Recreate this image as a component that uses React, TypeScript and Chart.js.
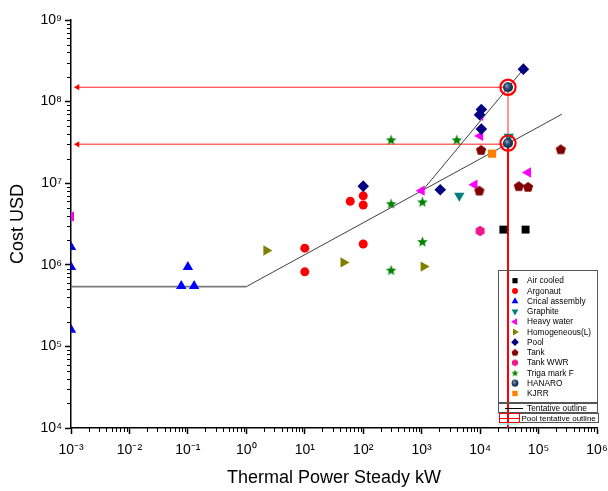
import React, { useEffect, useRef } from 'react';
import { Chart, registerables } from 'chart.js';

Chart.register(...registerables);

// ---------------- data ----------------
const xTickExponents = [-3, -2, -1, 0, 1, 2, 3, 4, 5, 6];
const yTickExponents = [4, 5, 6, 7, 8, 9];

const airCooledX = [2.5e4, 6e4];
const airCooledY = [2.7e6, 2.7e6];
const argonautX = [10, 10, 60, 100, 100, 100];
const argonautY = [1.6e6, 8.2e5, 6e6, 7e6, 5.4e6, 1.8e6];
const criticalX = [1e-3, 1e-3, 1e-3, 0.1, 0.077, 0.128];
const criticalY = [1.65e6, 9.4e5, 1.6e5, 9.4e5, 5.5e5, 5.5e5];
const graphiteX = [4400, 3.1e4];
const graphiteY = [7e6, 3.7e7];
const heavyWaterX = [1e-3, 1000, 8000, 1e4, 1e4, 6.6e4];
const heavyWaterY = [3.9e6, 8.1e6, 9.6e6, 3.8e7, 6.7e7, 1.35e7];
const homogeneousX = [2.2, 46, 1080];
const homogeneousY = [1.5e6, 1.07e6, 9.5e5];
const poolX = [100, 2080, 1.05e4, 9.8e3, 1.05e4, 5.5e4];
const poolY = [9.2e6, 8.3e6, 8e7, 6.9e7, 4.6e7, 2.5e8];
const tankX = [1.04e4, 9.7e3, 4.6e4, 6.6e4, 2.4e5];
const tankY = [2.55e7, 8.1e6, 9.2e6, 9e6, 2.6e7];
const tankWWRX = [1e4];
const tankWWRY = [2.6e6];
const trigaX = [300, 4000, 300, 1030, 1030, 300];
const trigaY = [3.4e7, 3.4e7, 5.6e6, 5.9e6, 1.92e6, 8.6e5];
const hanaroX = [3e4, 3e4];
const hanaroY = [1.5e8, 3.1e7];
const kjrrX = [1.6e4];
const kjrrY = [2.3e7];

// tentative outline
const outlineX = [1e-3, 1, 2.5e5];
const outlineY = [5.4e5, 5.4e5, 7e7];
const steepX = [1000, 5.5e4];
const steepY = [7.9e6, 2.5e8];

// pool tentative outline (red)
const poolLineX = [1.29e-3, 3e4];
const poolTopY = [1.5e8, 1.5e8];
const poolLowY = [3e7, 3e7];
const poolVertX = [3e4, 3e4];
const poolVertUpperY = [1.5e8, 3.1e7];
const poolVertLowerY = [3.1e7, 1e4];
const arrowX = [1.29e-3, 1.29e-3];
const arrowY = [1.5e8, 3e7];
const ringX = [3e4, 3e4];
const ringY = [1.5e8, 3.1e7];

// ---------------- helpers ----------------
const SUP: Record<string, string> = {
  '-': '\u207B', '0': '\u2070', '1': '\u00B9', '2': '\u00B2', '3': '\u00B3',
  '4': '\u2074', '5': '\u2075', '6': '\u2076', '7': '\u2077', '8': '\u2078', '9': '\u2079',
};
const powLabel = (e: number) => '10' + String(e).split('').map((c) => SUP[c]).join('');
const isPow10 = (v: number) => {
  const e = Math.log10(v);
  return Math.abs(e - Math.round(e)) < 1e-6;
};
function allTicks(exps: number[]) {
  const out: number[] = [];
  for (let i = 0; i < exps.length; i++) {
    const base = Math.pow(10, exps[i]);
    out.push(base);
    if (i < exps.length - 1) for (let m = 2; m <= 9; m++) out.push(m * base);
  }
  return out;
}
const pts = (xs: number[], ys: number[]) => xs.map((x, i) => ({ x, y: ys[i] }));

function mk(size: number, draw: (ctx: CanvasRenderingContext2D, c: number) => void) {
  const cv = document.createElement('canvas');
  cv.width = size;
  cv.height = size;
  const ctx = cv.getContext('2d')!;
  draw(ctx, size / 2);
  return cv;
}
function polyPath(ctx: CanvasRenderingContext2D, cx: number, cy: number, n: number, r: number, start: number) {
  ctx.beginPath();
  for (let i = 0; i < n; i++) {
    const a = start + (i * 2 * Math.PI) / n;
    const x = cx + r * Math.cos(a);
    const y = cy + r * Math.sin(a);
    if (i === 0) ctx.moveTo(x, y);
    else ctx.lineTo(x, y);
  }
  ctx.closePath();
}
function starPath(ctx: CanvasRenderingContext2D, cx: number, cy: number, ro: number, ri: number) {
  ctx.beginPath();
  for (let i = 0; i < 10; i++) {
    const a = -Math.PI / 2 + (i * Math.PI) / 5;
    const r = i % 2 === 0 ? ro : ri;
    const x = cx + r * Math.cos(a);
    const y = cy + r * Math.sin(a);
    if (i === 0) ctx.moveTo(x, y);
    else ctx.lineTo(x, y);
  }
  ctx.closePath();
}
function makeIcons(k: number) {
  const s = (v: number) => Math.max(4, Math.round(v * k));
  const pentagon = mk(s(12), (ctx, c) => {
    polyPath(ctx, c, c + 0.4 * k, 5, 5.4 * k, -Math.PI / 2);
    ctx.fillStyle = '#800000';
    ctx.fill();
  });
  const hexagon = mk(s(12), (ctx, c) => {
    polyPath(ctx, c, c, 6, 5.2 * k, -Math.PI / 2);
    ctx.fillStyle = '#F0168C';
    ctx.fill();
  });
  const star = mk(s(13), (ctx, c) => {
    starPath(ctx, c, c + 0.4 * k, 5.6 * k, 2.4 * k);
    ctx.fillStyle = '#008000';
    ctx.fill();
  });
  const sphere = mk(s(12), (ctx, c) => {
    const g = ctx.createRadialGradient(c - 1.5 * k, c - 1.8 * k, 0.3, c, c, 5 * k);
    g.addColorStop(0, '#8FA6C6');
    g.addColorStop(0.45, '#34507A');
    g.addColorStop(1, '#0E1E3A');
    ctx.beginPath();
    ctx.arc(c, c, 5 * k, 0, Math.PI * 2);
    ctx.fillStyle = g;
    ctx.fill();
  });
  return { pentagon, hexagon, star, sphere };
}

function drawShape(
  ctx: CanvasRenderingContext2D, style: any, x: number, y: number, r: number, rotDeg: number, fill: string,
) {
  if (typeof style !== 'string') {
    ctx.drawImage(style, x - style.width / 2, y - style.height / 2);
    return;
  }
  ctx.beginPath();
  const rad = (rotDeg * Math.PI) / 180;
  if (style === 'circle') {
    ctx.arc(x, y, r, 0, Math.PI * 2);
  } else if (style === 'rect') {
    const h = Math.SQRT1_2 * r;
    ctx.rect(x - h, y - h, 2 * h, 2 * h);
  } else if (style === 'rectRot') {
    ctx.moveTo(x - r, y);
    ctx.lineTo(x, y - r);
    ctx.lineTo(x + r, y);
    ctx.lineTo(x, y + r);
    ctx.closePath();
  } else if (style === 'triangle') {
    let a = rad;
    ctx.moveTo(x + Math.sin(a) * r, y - Math.cos(a) * r);
    a += (2 * Math.PI) / 3;
    ctx.lineTo(x + Math.sin(a) * r, y - Math.cos(a) * r);
    a += (2 * Math.PI) / 3;
    ctx.lineTo(x + Math.sin(a) * r, y - Math.cos(a) * r);
    ctx.closePath();
  }
  ctx.fillStyle = fill;
  ctx.fill();
}

export default function App() {
  const ref = useRef<HTMLCanvasElement>(null);

  useEffect(() => {
    document.body.style.margin = '0';
    const canvas = ref.current!;
    Chart.defaults.font.family = '"Liberation Sans", Arial, sans-serif';

    const icons = makeIcons(1);
    const legendIcons = makeIcons(0.68);

    const markerSeries: any[] = [
      { label: 'Air cooled', xs: airCooledX, ys: airCooledY, style: 'rect', lstyle: 'rect', rot: 0, color: '#000000', r: 5.6 },
      { label: 'Argonaut', xs: argonautX, ys: argonautY, style: 'circle', lstyle: 'circle', rot: 0, color: '#FF0000', r: 4.5 },
      { label: 'Crical assembly', xs: criticalX, ys: criticalY, style: 'triangle', lstyle: 'triangle', rot: 0, color: '#0000FF', r: 6 },
      { label: 'Graphite', xs: graphiteX, ys: graphiteY, style: 'triangle', lstyle: 'triangle', rot: 180, color: '#008080', r: 6 },
      { label: 'Heavy water', xs: heavyWaterX, ys: heavyWaterY, style: 'triangle', lstyle: 'triangle', rot: 270, color: '#FF00FF', r: 6 },
      { label: 'Homogeneous(L)', xs: homogeneousX, ys: homogeneousY, style: 'triangle', lstyle: 'triangle', rot: 90, color: '#808000', r: 6 },
      { label: 'Pool', xs: poolX, ys: poolY, style: 'rectRot', lstyle: 'rectRot', rot: 0, color: '#000080', r: 5.8 },
      { label: 'Tank', xs: tankX, ys: tankY, style: icons.pentagon, lstyle: legendIcons.pentagon, rot: 0, color: '#800000', r: 5.5 },
      { label: 'Tank WWR', xs: tankWWRX, ys: tankWWRY, style: icons.hexagon, lstyle: legendIcons.hexagon, rot: 0, color: '#F0168C', r: 5 },
      { label: 'Triga mark F', xs: trigaX, ys: trigaY, style: icons.star, lstyle: legendIcons.star, rot: 0, color: '#008000', r: 5.5 },
      { label: 'HANARO', xs: hanaroX, ys: hanaroY, style: icons.sphere, lstyle: legendIcons.sphere, rot: 0, color: '#1F3558', r: 5 },
      { label: 'KJRR', xs: kjrrX, ys: kjrrY, style: 'rect', lstyle: 'rect', rot: 0, color: '#FF8000', r: 5.8 },
    ];

    const markerDatasets = markerSeries.map((s, i) => ({
      label: s.label,
      data: pts(s.xs, s.ys),
      showLine: false,
      pointStyle: s.style,
      rotation: s.rot,
      pointRadius: s.r,
      pointHoverRadius: s.r,
      backgroundColor: s.color,
      borderColor: s.color,
      borderWidth: 0,
      clip: 0,
      order: 100 - i,
    }));

    const lineDs = (label: string, xs: number[], ys: number[], color: string, width: number, extra: any = {}) => ({
      label,
      data: pts(xs, ys),
      showLine: true,
      borderColor: color,
      borderWidth: width,
      pointRadius: 0,
      pointHoverRadius: 0,
      backgroundColor: color,
      clip: 0,
      order: 200,
      ...extra,
    });

    const datasets: any[] = [
      ...markerDatasets,
      lineDs('Tentative outline', outlineX, outlineY, '#2a2a2a', 0.9, {
        segment: { borderColor: (c: any) => (c.p0DataIndex === 0 ? '#7a7a7a' : '#2a2a2a'), borderWidth: (c: any) => (c.p0DataIndex === 0 ? 1.8 : 0.9) },
      }),
      lineDs('Tentative outline 2', steepX, steepY, '#2a2a2a', 0.9),
      lineDs('Pool tentative outline top', poolLineX, poolTopY, '#FF2020', 1),
      lineDs('Pool tentative outline low', poolLineX, poolLowY, 'rgba(255,70,70,0.8)', 1.7),
      lineDs('Pool tentative outline vertical upper', poolVertX, poolVertUpperY, 'rgba(255,90,90,0.85)', 1.5),
      lineDs('Pool tentative outline vertical lower', poolVertX, poolVertLowerY, '#FF0000', 2),
      {
        label: 'arrows',
        data: pts(arrowX, arrowY),
        showLine: false,
        pointStyle: 'triangle',
        rotation: 270,
        pointRadius: 3.6,
        pointHoverRadius: 3.6,
        backgroundColor: '#FF0000',
        borderColor: '#FF0000',
        borderWidth: 0,
        clip: 0,
        order: 150,
      },
      {
        label: 'rings',
        data: pts(ringX, ringY),
        showLine: false,
        pointStyle: 'circle',
        pointRadius: 7.6,
        pointHoverRadius: 7.6,
        backgroundColor: 'rgba(0,0,0,0)',
        borderColor: '#FF0000',
        borderWidth: 2.2,
        clip: 0,
        order: 0,
      },
    ];

    const xTicks = allTicks(xTickExponents);
    const yTicks = allTicks(yTickExponents);

    const minorTicks = {
      id: 'minorTicks',
      afterDraw(chart: any) {
        const { ctx } = chart;
        const xs = chart.scales.x;
        const ys = chart.scales.y;
        ctx.save();
        ctx.strokeStyle = '#000';
        ctx.lineWidth = 1;
        ctx.beginPath();
        for (const t of xs.ticks) {
          if (isPow10(t.value)) continue;
          const px = Math.round(xs.getPixelForValue(t.value)) + 0.5;
          ctx.moveTo(px, xs.top);
          ctx.lineTo(px, xs.top + 4);
        }
        for (const t of ys.ticks) {
          if (isPow10(t.value)) continue;
          const py = Math.round(ys.getPixelForValue(t.value)) + 0.5;
          ctx.moveTo(ys.right, py);
          ctx.lineTo(ys.right - 4, py);
        }
        ctx.stroke();
        ctx.restore();
      },
    };

    const boxLegend = {
      id: 'boxLegend',
      afterDatasetsDraw(chart: any) {
        const { ctx } = chart;
        ctx.save();
        ctx.strokeStyle = '#555';
        ctx.lineWidth = 1;
        ctx.strokeRect(498.5, 270.5, 99, 132);
        ctx.strokeRect(498.5, 403.5, 99, 9);
        ctx.strokeRect(499.5, 413.5, 99, 9);
        ctx.font = '8.3px "Liberation Sans", Arial, sans-serif';
        ctx.textBaseline = 'middle';
        ctx.textAlign = 'left';
        markerSeries.forEach((s, i) => {
          const y = 280.7 + i * 10.25;
          drawShape(ctx, s.lstyle, 515, y, s.r * 0.66, s.rot, s.color);
          ctx.fillStyle = '#000';
          ctx.fillText(s.label, 527, y + 0.5);
        });
        // tentative outline
        ctx.strokeStyle = '#000';
        ctx.beginPath();
        ctx.moveTo(505, 408.5);
        ctx.lineTo(523, 408.5);
        ctx.stroke();
        ctx.fillStyle = '#000';
        ctx.fillText('Tentative outline', 527, 408.5);
        // pool tentative outline
        ctx.strokeStyle = '#FF0000';
        ctx.strokeRect(499.5, 413.5, 20, 9);
        ctx.beginPath();
        ctx.moveTo(500, 418.5);
        ctx.lineTo(519, 418.5);
        ctx.stroke();
        ctx.strokeStyle = '#9FF5F5';
        ctx.lineWidth = 1.5;
        ctx.beginPath();
        ctx.moveTo(499, 424);
        ctx.lineTo(519, 424);
        ctx.stroke();
        ctx.font = '8px "Liberation Sans", Arial, sans-serif';
        ctx.fillStyle = '#000';
        ctx.fillText('Pool tentative outline', 521.5, 418.5);
        ctx.restore();
      },
    };

    const chart = new Chart(canvas, {
      type: 'scatter',
      data: { datasets },
      options: {
        responsive: false,
        devicePixelRatio: 1,
        animation: false,
        layout: { padding: { top: 20, right: 11, left: 0, bottom: 0 } },
        plugins: { legend: { display: false }, tooltip: { enabled: false } },
        scales: {
          x: {
            type: 'logarithmic',
            position: 'bottom',
            min: 1e-3,
            max: 1e6,
            afterBuildTicks: (s: any) => {
              s.ticks = xTicks.map((v) => ({ value: v }));
            },
            afterFit: (s: any) => {
              s.height = 63;
              s.paddingLeft = 0;
              s.paddingRight = 0;
            },
            ticks: {
              autoSkip: false,
              maxRotation: 0,
              minRotation: 0,
              padding: 8,
              color: '#000',
              font: { size: 14 },
              callback: (v: any) => (isPow10(Number(v)) ? powLabel(Math.round(Math.log10(Number(v)))) : ''),
            },
            grid: {
              drawOnChartArea: false,
              drawTicks: true,
              tickLength: 6,
              tickWidth: 1.5,
              tickColor: (c: any) => (c.tick && isPow10(c.tick.value) ? '#000' : 'rgba(0,0,0,0)'),
            },
            border: { display: true, color: '#000', width: 1.5 },
            title: {
              display: true,
              text: 'Thermal Power Steady kW',
              color: '#000',
              font: { size: 18 },
              padding: { top: 0, bottom: 2 },
            },
          },
          y: {
            type: 'logarithmic',
            position: 'left',
            min: 1e4,
            max: 1e9,
            afterBuildTicks: (s: any) => {
              s.ticks = yTicks.map((v) => ({ value: v }));
            },
            afterFit: (s: any) => {
              s.width = 71;
              s.paddingTop = 0;
              s.paddingBottom = 0;
            },
            ticks: {
              autoSkip: false,
              padding: 3,
              color: '#000',
              font: { size: 14 },
              callback: (v: any) => (isPow10(Number(v)) ? powLabel(Math.round(Math.log10(Number(v)))) : ''),
            },
            grid: {
              drawOnChartArea: false,
              drawTicks: true,
              tickLength: 6,
              tickWidth: 1.5,
              tickColor: (c: any) => (c.tick && isPow10(c.tick.value) ? '#000' : 'rgba(0,0,0,0)'),
            },
            border: { display: true, color: '#000', width: 1.5 },
            title: {
              display: true,
              text: 'Cost USD',
              color: '#000',
              font: { size: 18 },
              padding: { top: 7, bottom: 0 },
            },
          },
        },
      } as any,
      plugins: [minorTicks, boxLegend],
    });

    return () => chart.destroy();
  }, []);

  return (
    <div style={{ width: 608, height: 491, background: '#fff' }}>
      <canvas ref={ref} width={608} height={491} style={{ display: 'block' }} />
    </div>
  );
}
